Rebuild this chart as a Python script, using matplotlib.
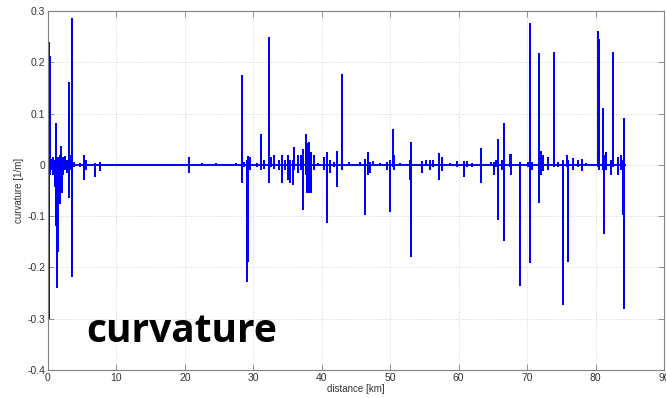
import numpy as np
import matplotlib.pyplot as plt

# spikes: position [km], highest and lowest curvature [1/m]
spike_km = [0.15, 0.3, 0.55, 0.8, 1.0, 1.15, 1.27, 1.4, 1.56, 1.8, 1.9, 2.05, 2.25, 2.5, 2.75,
            3.1, 3.3, 3.55, 3.8, 4.7, 5.2, 5.5, 6.9, 7.6,
            10.5, 13.0, 16.5, 20.6, 22.5, 24.5, 26.5, 27.5,
            28.3, 28.6, 29.1, 29.25, 29.5, 30.5, 31.1, 31.5, 32.3, 32.6, 33.0, 33.7, 34.2, 34.6,
            35.0, 35.4, 35.8, 36.0, 36.5, 36.9, 37.3, 37.65, 37.9, 38.1, 38.5, 38.9, 39.5,
            40.4, 40.8, 41.2, 41.8, 42.2, 42.95, 44.0, 45.6, 46.3, 46.7, 47.0, 47.5, 48.5, 49.5,
            50.0, 50.4, 50.55, 51.5, 52.9, 53.1, 54.6, 55.3, 55.8, 56.3, 57.2, 57.5, 58.7, 59.8,
            60.8, 61.2, 61.9, 63.3, 64.7, 65.2, 65.5, 65.8, 66.3, 66.6, 67.5, 67.7, 69.0,
            70.2, 70.4, 70.7, 71.7, 72.0, 72.3, 73.0, 73.9, 74.5, 75.3, 75.9, 76.0, 76.7, 77.5,
            78.0, 78.6, 79.5, 80.3, 80.5, 81.1, 81.2, 81.5, 82.2, 82.55, 83.3, 83.7, 84.0, 84.2]
spike_max = [0.24, 0.212, 0.012, 0.015, 0.01, 0.082, 0.01, 0.015, 0.01, 0.02, 0.036, 0.01, 0.015, 0.018, 0.01,
             0.162, 0.02, 0.286, 0.005, 0.003, 0.019, 0.01, 0.003, 0.005,
             0.002, 0.002, 0.002, 0.015, 0.003, 0.003, 0.002, 0.004,
             0.175, 0.005, 0.01, 0.018, 0.015, 0.003, 0.06, 0.01, 0.25, 0.015, 0.02, 0.01, 0.02, 0.01,
             0.02, 0.01, 0.01, 0.035, 0.02, 0.02, 0.03, 0.06, 0.043, 0.045, 0.025, 0.02, 0.003,
             0.015, 0.025, 0.01, 0.006, 0.027, 0.178, 0.005, 0.005, 0.012, 0.025, 0.005, 0.007, 0.004, 0.006,
             0.01, 0.07, 0.02, 0.004, 0.01, 0.045, 0.007, 0.01, 0.01, 0.01, 0.023, 0.015, 0.004, 0.008,
             0.008, 0.008, 0.003, 0.033, 0.006, 0.005, 0.01, 0.05, 0.01, 0.082, 0.022, 0.021, 0.005,
             0.005, 0.277, 0.005, 0.219, 0.027, 0.02, 0.016, 0.221, 0.005, 0.01, 0.02, 0.01, 0.013, 0.01,
             0.012, 0.004, 0.002, 0.26, 0.245, 0.11, 0.02, 0.026, 0.01, 0.22, 0.015, 0.02, 0.01, 0.091]
spike_min = [-0.30, -0.02, -0.01, -0.02, -0.043, -0.12, -0.24, -0.17, -0.04, -0.076, -0.01, -0.055, -0.02, -0.01, -0.015,
             -0.065, -0.01, -0.218, -0.005, -0.005, -0.03, -0.01, -0.023, -0.012,
             -0.001, -0.002, -0.001, -0.016, -0.002, -0.002, -0.002, -0.003,
             -0.035, -0.005, -0.228, -0.19, -0.01, -0.005, -0.01, -0.008, -0.035, -0.005, -0.008, -0.01, -0.035, -0.01,
             -0.03, -0.036, -0.04, -0.01, -0.015, -0.01, -0.088, -0.02, -0.055, -0.054, -0.055, -0.01, -0.002,
             -0.01, -0.113, -0.015, -0.004, -0.043, -0.01, -0.002, -0.002, -0.097, -0.02, -0.015, -0.003, -0.002, -0.01,
             -0.092, -0.005, -0.01, -0.003, -0.03, -0.18, -0.015, -0.003, -0.01, -0.005, -0.03, -0.012, -0.002, -0.004,
             -0.023, -0.005, -0.005, -0.035, -0.003, -0.02, -0.005, -0.107, -0.01, -0.148, -0.005, -0.02, -0.237,
             -0.005, -0.191, -0.01, -0.074, -0.02, -0.012, -0.01, -0.005, -0.005, -0.273, -0.005, -0.19, -0.01, -0.005,
             -0.012, -0.002, -0.002, -0.005, -0.01, -0.01, -0.135, -0.01, -0.02, -0.005, -0.02, -0.01, -0.098, -0.281]

x_ticks = [0, 10, 20, 30, 40, 50, 60, 70, 80, 90]
y_ticks = [-0.4, -0.3, -0.2, -0.1, 0, 0.1, 0.2, 0.3]
y_ticklabels = ["-0.4", "-0.3", "-0.2", "-0.1", "0", "0.1", "0.2", "0.3"]

# each spike drawn as a vertical stroke: 0 -> max -> min -> 0
dist = [0.0]
curv = [0.0]
for k, hi, lo in zip(spike_km, spike_max, spike_min):
    dist += [k, k, k, k]
    curv += [0.0, hi, lo, 0.0]
dist.append(84.3)
curv.append(0.0)

fig = plt.figure(figsize=(6.66, 3.98), dpi=100)
ax = fig.add_axes([0.072, 0.0704, 0.925, 0.902])
ax.plot(dist, curv, color="#0000ff", lw=1.4, solid_joinstyle="miter")

ax.set_xlim(0, 90)
ax.set_ylim(-0.4, 0.3)
ax.set_xticks(x_ticks)
ax.set_yticks(y_ticks)
ax.set_yticklabels(y_ticklabels)
ax.grid(True, linestyle=(0, (1, 2)), color="#c8c8c8", lw=0.6)
ax.tick_params(direction="in", length=4, width=0.6, color="#808080", labelcolor="#333333",
               labelsize=7.5, pad=2, top=True, right=True)
for s in ax.spines.values():
    s.set_color("#808080")
    s.set_linewidth(0.8)
for lab in ax.get_xticklabels() + ax.get_yticklabels():
    lab.set_family("Liberation Sans")

ax.set_xlabel("distance [km]", fontsize=7, family="Liberation Sans", color="#333333", labelpad=1)
ax.set_ylabel("curvature [1/m]", fontsize=7, family="Liberation Sans", color="#333333", labelpad=2)

fig.text(0.130, 0.1415, "curvature", fontsize=28, fontweight="bold", family="Open Sans",
         ha="left", va="baseline", color="black")

fig.savefig("out.png", dpi=100)
